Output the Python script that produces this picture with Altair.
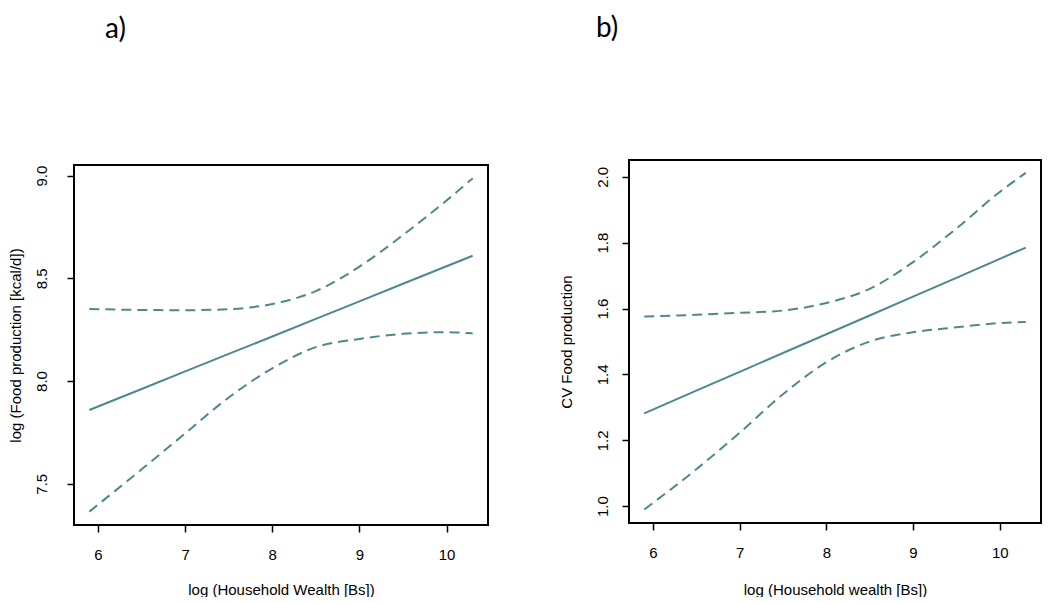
import altair as alt
import pandas as pd

# ---- data ----
x_vals = [5.9, 6.5, 7.0, 7.5, 8.0, 8.5, 9.0, 9.5, 10.0, 10.3]

fit_a = [7.859, 7.961, 8.047, 8.132, 8.217, 8.303, 8.388, 8.474, 8.559, 8.610]
upper_a = [8.351, 8.346, 8.345, 8.350, 8.375, 8.438, 8.557, 8.711, 8.879, 8.987]
lower_a = [7.364, 7.570, 7.745, 7.920, 8.062, 8.165, 8.205, 8.230, 8.238, 8.232]

fit_b = [1.282, 1.351, 1.408, 1.465, 1.522, 1.579, 1.636, 1.693, 1.751, 1.785]
upper_b = [1.576, 1.581, 1.587, 1.594, 1.617, 1.660, 1.741, 1.843, 1.954, 2.012]
lower_b = [0.990, 1.112, 1.223, 1.340, 1.437, 1.500, 1.528, 1.543, 1.556, 1.559]

x_ticks = [6, 7, 8, 9, 10]
y_ticks_a = [7.5, 8.0, 8.5, 9.0]
y_ticks_b = [1.0, 1.2, 1.4, 1.6, 1.8, 2.0]

x_domain = [5.724, 10.476]
y_domain_a = [7.299, 9.052]
y_domain_b = [0.949, 2.051]

LINE = "#4d898c"
FONT = "Liberation Sans"


def panel(fit, upper, lower, ydom, yticks, ytitle, xtitle, label,
          w, h, top, title_offset, title_dx, ytitle_x, ylabel_pad, xtitle_y):
    n = len(x_vals)
    df_fit = pd.DataFrame({"x": x_vals, "y": fit})
    df_band = pd.DataFrame({
        "x": x_vals + x_vals,
        "y": upper + lower,
        "band": ["upper"] * n + ["lower"] * n,
    })
    xenc = alt.X(
        "x:Q",
        scale=alt.Scale(domain=x_domain, nice=False, zero=False),
        axis=alt.Axis(
            values=x_ticks, format="d", title=xtitle,
            labelBaseline="middle", labelPadding=22,
            titleY=xtitle_y, titleBaseline="middle",
        ),
    )
    yaxis = alt.Axis(
        values=yticks, format=".1f", title=ytitle,
        labelAngle=270, labelAlign="center", labelBaseline="middle",
        labelPadding=ylabel_pad,
        titleAngle=270, titleX=ytitle_x, titleY=(h + top) / 2,
        titleAlign="center", titleBaseline="middle",
    )
    yenc = alt.Y("y:Q", scale=alt.Scale(domain=ydom, nice=False, zero=False,
                                         range=[h, top]), axis=yaxis)

    box = alt.Chart(pd.DataFrame({"k": [0]})).mark_rect(
        fill=None, stroke="black", strokeWidth=2
    ).encode(
        x=alt.value(0), x2=alt.value(w), y=alt.value(top), y2=alt.value(h)
    )

    fit_line = alt.Chart(df_fit).mark_line(
        color=LINE, strokeWidth=2
    ).encode(x=xenc, y=yenc)

    band_lines = alt.Chart(df_band).mark_line(
        color=LINE, strokeWidth=2, strokeDash=[10, 6], interpolate="monotone"
    ).encode(x=xenc, y=yenc, detail="band:N")

    return alt.layer(fit_line, band_lines, box).properties(
        width=w, height=h,
        title=alt.TitleParams(
            label, anchor="start", frame="group", dx=title_dx, offset=title_offset,
            baseline="top",
            font="Lato", fontSize=28, fontWeight="normal", color="black",
        ),
    )


chart_a = panel(fit_a, upper_a, lower_a, y_domain_a, y_ticks_a,
                "log (Food production [kcal/d])", "log (Household Wealth [Bs])", "a)",
                414, 365, 5, 116, 31, -59, 26, 64)
chart_b = panel(fit_b, upper_b, lower_b, y_domain_b, y_ticks_b,
                "CV Food production", "log (Household wealth [Bs])", "b)",
                412, 363, 0, 116, -33, -63, 20, 66)

chart = alt.hconcat(chart_a, chart_b, spacing=70).properties(
    padding={"top": 7, "left": 0, "right": 0, "bottom": 0}, background="white"
).configure_view(
    strokeWidth=0
).configure_axis(
    domain=False, grid=False,
    tickColor="black", tickSize=7, tickWidth=1.5,
    labelColor="black", labelFont=FONT, labelFontSize=15,
    titleColor="black", titleFont=FONT, titleFontSize=15, titleFontWeight="normal",
)

chart.save("out.html", embed_options={"renderer": "svg", "actions": False})
